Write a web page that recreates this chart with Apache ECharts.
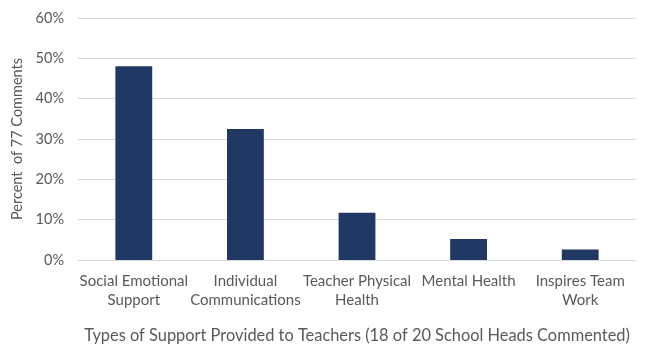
<!DOCTYPE html>
<html>
<head>
<meta charset="utf-8">
<script src="https://cdn.jsdelivr.net/npm/echarts@6/dist/echarts.min.js"></script>
<style>
  html, body { margin: 0; padding: 0; background: #fff; }
  #chart { width: 648px; height: 349px; }
</style>
</head>
<body>
<div id="chart"></div>
<script>
const categories = ['Social Emotional\nSupport', 'Individual\nCommunications', 'Teacher Physical\nHealth', 'Mental Health', 'Inspires Team\nWork']
const percentValues = [48.05, 32.47, 11.69, 5.19, 2.6]
const yTicks = [0, 10, 20, 30, 40, 50, 60]

const textColor = '#595959'
const fontFamily = 'Lato, "Open Sans", sans-serif'

const chart = echarts.init(document.getElementById('chart'))
chart.setOption({
  animation: false,
  grid: {
    top: 18,
    left: 78,
    right: 12,
    bottom: 87
  },
  xAxis: {
    type: 'category',
    data: categories,
    name: 'Types of Support Provided to Teachers (18 of 20 School Heads Commented)',
    nameLocation: 'middle',
    nameGap: 68,
    nameTextStyle: { color: textColor, fontSize: 16.4, fontFamily: fontFamily },
    axisTick: { show: false },
    axisLine: { lineStyle: { color: '#d9d9d9' } },
    axisLabel: {
      interval: 0,
      color: textColor,
      fontSize: 15,
      fontFamily: fontFamily,
      lineHeight: 19,
      margin: 12
    }
  },
  yAxis: {
    type: 'value',
    min: yTicks[0],
    max: yTicks[yTicks.length - 1],
    interval: 10,
    name: 'Percent  of 77 Comments',
    nameLocation: 'middle',
    nameGap: 51,
    nameTextStyle: { color: textColor, fontSize: 14.5, fontFamily: fontFamily },
    axisLine: { show: false },
    axisTick: { show: false },
    splitLine: { lineStyle: { color: '#d9d9d9' } },
    axisLabel: {
      color: textColor,
      fontSize: 14.5,
      fontFamily: fontFamily,
      margin: 14,
      formatter: '{value}%'
    }
  },
  series: [{
    type: 'bar',
    data: percentValues,
    barWidth: '33%',
    itemStyle: { color: '#203864' }
  }]
})
</script>
</body>
</html>
